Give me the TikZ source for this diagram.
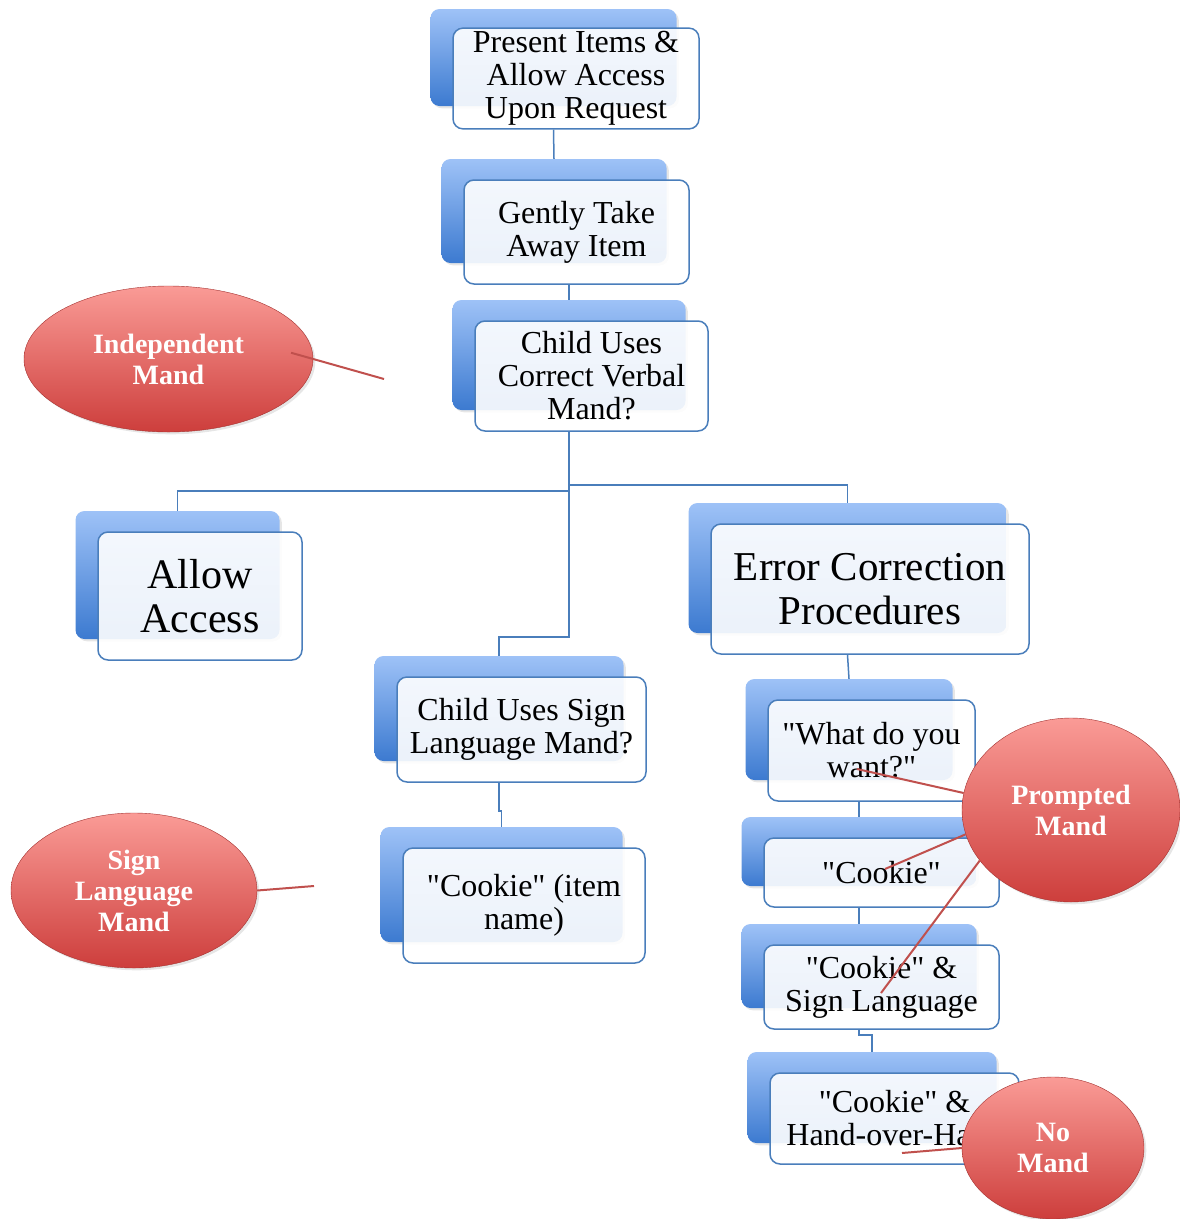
\documentclass[tikz,border=0pt]{standalone}
\usepackage{fontspec}
\setmainfont{Liberation Serif}
\usetikzlibrary{shapes.geometric,shadows}
\definecolor{linkblue}{RGB}{74,126,187}
\definecolor{backtop}{RGB}{158,194,247}
\definecolor{backbot}{RGB}{60,122,208}
\definecolor{mandtop}{RGB}{250,155,150}
\definecolor{mandbot}{RGB}{205,62,60}
\definecolor{mandline}{RGB}{192,80,77}
\tikzset{
    cardback/.style={rectangle, rounded corners=9pt, top color=backtop, bottom color=backbot, drop shadow={opacity=0.2}},
    card/.style={rectangle, rounded corners=10pt, draw=linkblue, line width=1.5pt, fill=white, fill opacity=0.9, text opacity=1, align=center},
    mand/.style={ellipse, draw=mandbot!80!black, top color=mandtop, bottom color=mandbot, text=white, align=center, inner sep=0pt, drop shadow={opacity=0.2}, font=\bfseries\fontsize{28}{31}\selectfont},
    link/.style={draw=linkblue, line width=1.5pt},
    note/.style={draw=mandline, line width=2pt}
}

\begin{document}
\begin{tikzpicture}
  [
    x                       = 1pt,
    y                       = -1pt,
  ]
  \useasboundingbox (0,0) rectangle (1180,1219);
  % boxes: back plate first, then the card
  \foreach \nm/\x/\y/\w/\h/\fs/\bs/\txt in {
      pres/576/78.5/246/97/32/33/{Present Items \&\\Allow Access\\Upon Request},
      gent/576.5/232/225/104/32/33/{Gently Take\\Away Item},
      verb/591.5/376/233/110/32/33/{Child Uses\\Correct Verbal\\Mand?},
      allow/200/596/204/128/42/44/{Allow\\Access},
      err/870/589/318/130/41/44/{Error Correction\\Procedures},
      sign/521.5/729.5/249/105/32/33/{Child Uses Sign\\Language Mand?},
      item/524/905.5/242/115/32/33/{\textquotedbl Cookie\textquotedbl{} (item\\name)},
      what/871.5/750.5/207/101/32/33/{\textquotedbl What do you\\want?\textquotedbl},
      cook/881.5/872.5/235/69/32/33/{\textquotedbl Cookie\textquotedbl},
      csign/881.5/987/235/84/32/33/{\textquotedbl Cookie\textquotedbl{} \&\\Sign Language},
      hoh/894.5/1118.5/249/91/32/33/{\textquotedbl Cookie\textquotedbl{} \&\\Hand-over-Hand}}
  {
    \node [cardback, minimum width=\w pt, minimum height=\h pt] (back\nm) at (\x-22.5,\y-21) {};
    \node [card, minimum width=\w pt, minimum height=\h pt, font=\fontsize{\fs}{\bs}\selectfont] (\nm) at (\x,\y) {\txt};
  }

  \draw [link] (backpres.center |- pres.south) -- (backgent.north);
  \draw [link] (backverb.north |- gent.south) -- (backverb.north);
  \draw [link] (backverb.center |- verb.south) -- ++(0,59) -| (backallow.north);
  \draw [link] (backverb.center |- verb.south) -- ++(0,53) -| (backerr.north);
  \draw [link] (backverb.center |- verb.south) -- ++(0,205) -| (backsign.north);
  \draw [link] (backsign.center |- sign.south) -- ++(0,28) -| (backitem.north);
  \draw [link] (backerr.center |- err.south) -- (backwhat.north);
  \draw [link] (backcook.north |- what.south) -- (backcook.north);
  \draw [link] (backcsign.north |- cook.south) -- (backcsign.north);
  \draw [link] (backcsign.center |- csign.south) -- ++(0,5) -| (backhoh.north);

  % mand types
  \node [mand, minimum width=289pt, minimum height=146pt] (indep) at (168.5,359) {Independent\\Mand};
  \node [mand, minimum width=246pt, minimum height=155pt] (signmand) at (134,890.5) {Sign\\Language\\Mand};
  \node [mand, minimum width=218pt, minimum height=184pt] (prompt) at (1071,810) {Prompted\\Mand};
  \node [mand, minimum width=182pt, minimum height=142pt] (nomand) at (1053,1148) {No\\Mand};

  \coordinate (indepEnd) at (384,379);
  \coordinate (signEnd) at (314,886);
  \coordinate (whatEnd) at (857,769);
  \coordinate (cookEnd) at (885,869);
  \coordinate (csignEnd) at (881,993);
  \coordinate (hohEnd) at (902,1153);

  \draw [note, shorten <=-23pt] (indep.east) -- (indepEnd);
  \draw [note] (signmand.east) -- (signEnd);
  \draw [note] (prompt.171) -- (whatEnd);
  \draw [note] (prompt.193) -- (cookEnd);
  \draw [note] (prompt.209) -- (csignEnd);
  \draw [note] (nomand.west) -- (hohEnd);
\end{tikzpicture}
\end{document}
